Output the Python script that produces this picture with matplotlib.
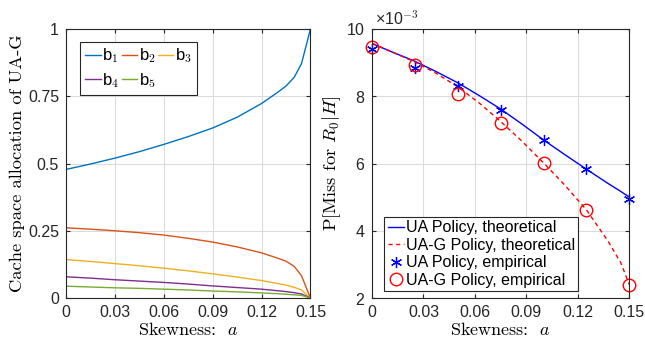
import numpy as np
import matplotlib
matplotlib.use('Agg')
import matplotlib.pyplot as plt

plt.rcParams['font.family'] = ['Liberation Sans', 'DejaVu Sans']
plt.rcParams['mathtext.fontset'] = 'cm'
plt.rcParams['axes.formatter.use_mathtext'] = True

# left panel: cache space allocation of UA-G vs skewness
skew = [0.0, 0.015, 0.03, 0.045, 0.06, 0.075, 0.09, 0.105, 0.12, 0.13, 0.135, 0.14, 0.1445, 0.15]
b1 = [0.478, 0.498, 0.520, 0.544, 0.571, 0.600, 0.632, 0.672, 0.723, 0.765, 0.788, 0.820, 0.871, 1.0]
b2 = [0.261, 0.256, 0.250, 0.243, 0.234, 0.222, 0.208, 0.190, 0.168, 0.148, 0.137, 0.118, 0.083, 0.0]
b3 = [0.143, 0.136, 0.128, 0.120, 0.111, 0.101, 0.090, 0.078, 0.065, 0.054, 0.048, 0.040, 0.030, 0.0]
b4 = [0.079, 0.074, 0.068, 0.063, 0.058, 0.052, 0.045, 0.039, 0.033, 0.027, 0.024, 0.020, 0.015, 0.0]
b5 = [0.044, 0.041, 0.038, 0.036, 0.033, 0.030, 0.026, 0.023, 0.019, 0.016, 0.014, 0.012, 0.010, 0.0]
alloc_labels = [r'b$_\mathsf{1}$', r'b$_\mathsf{2}$', r'b$_\mathsf{3}$', r'b$_\mathsf{4}$', r'b$_\mathsf{5}$']

# right panel: miss probability (x 1e-3)
skew_th = [0.0, 0.0125, 0.025, 0.0375, 0.05, 0.0625, 0.075, 0.0875, 0.1, 0.1125, 0.125, 0.1375, 0.145, 0.15]
miss_ua_th = [9.57, 9.30, 9.04, 8.73, 8.40, 8.02, 7.62, 7.17, 6.70, 6.26, 5.83, 5.41, 5.17, 5.00]
miss_uag_th = [9.57, 9.30, 9.02, 8.68, 8.28, 7.80, 7.25, 6.66, 6.02, 5.35, 4.62, 3.70, 3.05, 2.40]
skew_emp = [0.0, 0.025, 0.05, 0.075, 0.1, 0.125, 0.15]
miss_ua_emp = [9.40, 8.85, 8.30, 7.59, 6.69, 5.83, 4.93]
miss_uag_emp = [9.45, 8.93, 8.06, 7.21, 6.02, 4.61, 2.38]

matlab_colors = ['#0072BD', '#D95319', '#EDB120', '#7E2F8E', '#77AC30']
xtick_vals = [0, 0.03, 0.06, 0.09, 0.12, 0.15]
xtick_text = ['0', '0.03', '0.06', '0.09', '0.12', '0.15']
serif = 'cmr10'

fig = plt.figure(figsize=(6.45, 3.41), dpi=100)
ax1 = fig.add_axes([0.1023, 0.126, 0.379, 0.789])
ax2 = fig.add_axes([0.5767, 0.126, 0.399, 0.789])

def matlab_style(ax):
    ax.grid(True, color='#dcdcdc', linewidth=0.8)
    ax.set_axisbelow(True)
    ax.tick_params(direction='in', top=True, right=True, labelsize=11.5,
                   length=3, colors='#262626', pad=5)
    for s in ax.spines.values():
        s.set_color('#262626')
        s.set_linewidth(0.8)

lines = []
for vals, lab, c in zip([b1, b2, b3, b4, b5], alloc_labels, matlab_colors):
    ln, = ax1.plot(skew, vals, color=c, linewidth=1.0, label=lab)
    lines.append(ln)
ax1.set_xlim(0, 0.15)
ax1.set_ylim(0, 1)
ax1.set_xticks(xtick_vals)
ax1.set_xticklabels(xtick_text)
ax1.set_yticks([0, 0.25, 0.5, 0.75, 1])
ax1.set_yticklabels(['0', '0.25', '0.5', '0.75', '1'])
matlab_style(ax1)
ax1.set_xlabel('Skewness:  $a$', fontfamily=serif, fontsize=13, labelpad=1)
ax1.set_ylabel('Cache space allocation of UA-G', fontfamily=serif, fontsize=13.3, labelpad=2)
order = [0, 3, 1, 4, 2]
leg1 = ax1.legend([lines[i] for i in order], [alloc_labels[i] for i in order],
                  ncol=3, loc='upper left', bbox_to_anchor=(0.058, 0.953),
                  handlelength=0.95, handletextpad=0.08, columnspacing=0.1,
                  labelspacing=0.35, borderpad=0.3, borderaxespad=0, fontsize=12,
                  fancybox=False, edgecolor='#262626', framealpha=1)
leg1.get_frame().set_linewidth(0.8)

ax2.plot(skew_th, miss_ua_th, color='b', linewidth=1.0, label='UA Policy, theoretical')
ax2.plot(skew_th, miss_uag_th, color='r', linestyle='--', linewidth=1.0,
         dashes=(3, 2.5), label='UA-G Policy, theoretical')
ax2.plot(skew_emp, miss_ua_emp, linestyle='none', marker=(6, 2, 0), color='b',
         markersize=8, markeredgewidth=0.9, clip_on=False, label='UA Policy, empirical')
ax2.plot(skew_emp, miss_uag_emp, linestyle='none', marker='o', color='r',
         markerfacecolor='none', markersize=9, markeredgewidth=1.0, clip_on=False,
         label='UA-G Policy, empirical')
ax2.set_xlim(0, 0.15)
ax2.set_ylim(2, 10)
ax2.set_xticks(xtick_vals)
ax2.set_xticklabels(xtick_text)
ax2.set_yticks([2, 4, 6, 8, 10])
matlab_style(ax2)
ax2.set_xlabel('Skewness:  $a$', fontfamily=serif, fontsize=13, labelpad=1)
ax2.set_ylabel('P[Miss for $R_0|H$]', fontfamily=serif, fontsize=13.3, labelpad=2)
ax2.text(0.01, 1.005, '×10$^{\\mathsf{-3}}$', transform=ax2.transAxes,
         fontsize=11.5, color='#262626', va='bottom', ha='left')
leg2 = ax2.legend(loc='lower left', bbox_to_anchor=(0.048, 0.027),
                  handlelength=1.05, handletextpad=0.1, labelspacing=0.15,
                  borderpad=0.2, borderaxespad=0, fontsize=11.5, fancybox=False,
                  edgecolor='#262626', framealpha=1)
leg2.get_frame().set_linewidth(0.8)

fig.savefig('out.png', dpi=100)
